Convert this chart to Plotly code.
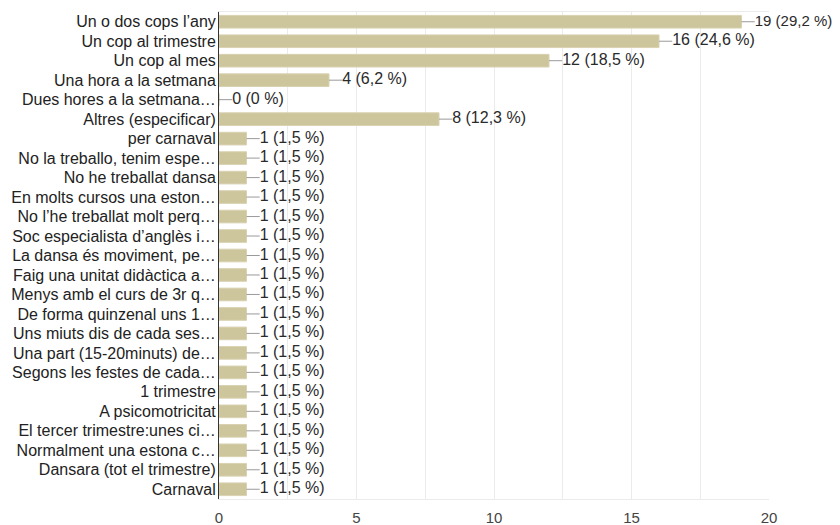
import plotly.graph_objects as go

# Survey answers, listed top to bottom
categories = [
    "Un o dos cops l’any",
    "Un cop al trimestre",
    "Un cop al mes",
    "Una hora a la setmana",
    "Dues hores a la setmana…",
    "Altres (especificar)",
    "per carnaval",
    "No la treballo, tenim espe…",
    "No he treballat dansa",
    "En molts cursos una eston…",
    "No l’he treballat molt perq…",
    "Soc especialista d’anglès i…",
    "La dansa és moviment, pe…",
    "Faig una unitat didàctica a…",
    "Menys amb el curs de 3r q…",
    "De forma quinzenal uns 1…",
    "Uns miuts dis de cada ses…",
    "Una part (15-20minuts) de…",
    "Segons les festes de cada…",
    "1 trimestre",
    "A psicomotricitat",
    "El tercer trimestre:unes ci…",
    "Normalment una estona c…",
    "Dansara (tot el trimestre)",
    "Carnaval",
]
counts = [19, 16, 12, 4, 0, 8] + [1] * 19
respondents = 65

x_ticks = [0, 5, 10, 15, 20]

BAR = "#cdc59b"
FONT = "Arial, Liberation Sans, sans-serif"


def label(v):
    pct = round(v / respondents * 100, 1)
    s = f"{pct:.1f}".replace(".", ",")
    if s.endswith(",0"):
        s = s[:-2]
    return f"{v} ({s} %)"


labels = [label(v) for v in counts]
lead = 0.48  # length of the leader line, in count units
# the label of the longest bar is set a little smaller so it stays on the canvas
label_sizes = [15 if v == max(counts) else 16 for v in counts]

fig = go.Figure()
fig.add_trace(go.Bar(
    x=counts, y=categories, orientation="h",
    marker=dict(color=BAR, line=dict(color="#d9d2b2", width=1)),
    width=0.65, hoverinfo="skip",
))

# leader lines from each bar end to its value label
for c, v in zip(categories, counts):
    fig.add_trace(go.Scatter(
        x=[v, v + lead], y=[c, c], mode="lines",
        line=dict(color="#9a9a9a", width=1), hoverinfo="skip",
    ))
fig.add_trace(go.Scatter(
    x=[v + lead for v in counts], y=categories, mode="text",
    text=labels, textposition="middle right",
    textfont=dict(family=FONT, size=label_sizes, color="#2a2a2a"),
    hoverinfo="skip", cliponaxis=False,
))

fig.update_layout(
    width=840, height=525,
    margin=dict(l=219, r=71, t=12, b=26),
    plot_bgcolor="white", paper_bgcolor="white",
    showlegend=False,
    font=dict(family=FONT, size=15, color="#222222"),
    xaxis=dict(
        range=[0, 20], tickvals=x_ticks, ticktext=[str(t) for t in x_ticks],
        showgrid=True, gridcolor="#ebebeb", gridwidth=1,
        minor=dict(dtick=2.5, showgrid=True, gridcolor="#ebebeb"),
        zeroline=False,
        showline=True, linecolor="#ebebeb", linewidth=1, mirror=True,
        ticks="", ticklabelstandoff=5, automargin=False,
        tickfont=dict(size=15, color="#444444"),
        fixedrange=True,
    ),
    yaxis=dict(
        type="category",
        categoryorder="array", categoryarray=categories[::-1],
        tickmode="array", tickvals=categories, ticktext=categories,
        range=[-0.5, len(categories) - 0.5],
        showgrid=False, zeroline=False,
        showline=True, linecolor="#333333", linewidth=1,
        ticks="", ticklabelstandoff=-1, automargin=False,
        tickfont=dict(size=16, color="#222222"),
        fixedrange=True,
    ),
)

fig.write_html("out.html")
